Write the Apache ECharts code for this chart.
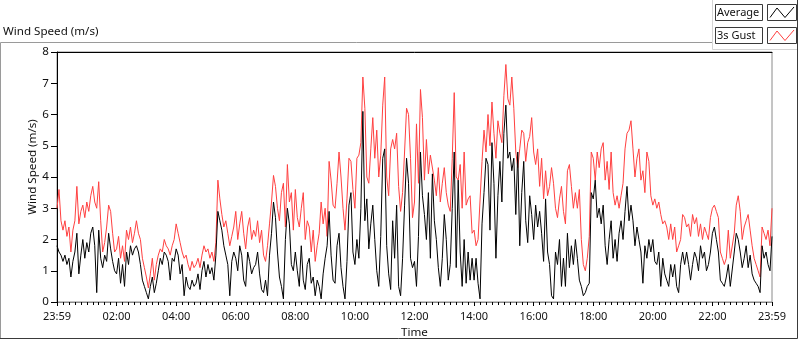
<!DOCTYPE html>
<html>
<head>
<meta charset="utf-8">
<script src="https://cdn.jsdelivr.net/npm/echarts@6/dist/echarts.min.js"></script>
<style>
html,body{margin:0;padding:0;background:#fff;}
#chart{width:800px;height:342px;}
</style>
</head>
<body>
<div id="chart"></div>
<script>
// ---- data (one sample every 4 minutes, from 23:59 to 23:59) ----
const stepMinutes = 4;
const tickLabels = ['23:59','02:00','04:00','06:00','08:00','10:00','12:00','14:00','16:00','18:00','20:00','22:00','23:59'];
const seriesNames = ['Average', '3s Gust'];

const gust = [
3.0,3.6,2.6,2.3,2.6,2.1,2.4,1.6,2.3,2.6,
3.7,2.5,2.9,3.1,2.7,3.2,2.9,3.4,3.7,3.2,
3.0,3.85,2.6,1.6,1.9,2.4,3.1,2.9,2.2,1.6,
1.7,2.1,1.4,1.8,1.3,2.3,2.0,2.4,1.9,2.2,
2.6,2.2,2.0,1.4,1.1,0.8,0.45,0.9,1.4,0.7,
1.2,1.5,1.7,1.6,2.0,1.8,1.7,1.5,1.8,2.0,
2.5,2.2,1.9,1.6,1.4,1.5,1.2,1.0,1.3,1.1,
1.2,1.4,1.1,1.5,1.8,1.6,1.7,1.4,1.6,1.3,
1.9,3.9,3.3,2.8,2.4,2.6,2.2,1.8,2.1,2.4,
2.9,2.0,2.5,2.9,2.2,1.7,2.4,2.7,2.0,2.3,
2.1,2.6,1.9,2.3,1.5,1.3,1.8,2.5,3.2,4.05,
3.7,3.0,2.6,3.5,3.8,2.4,4.4,3.2,3.5,2.3,
3.6,2.7,2.4,3.0,3.5,2.0,2.6,2.4,1.6,2.3,
1.3,1.8,2.2,3.2,2.5,3.0,2.1,4.5,3.9,3.1,
3.0,3.8,4.8,4.0,3.0,2.3,3.3,4.6,4.5,3.6,
3.0,4.6,4.7,5.1,7.2,6.2,4.0,3.8,4.9,5.9,
4.6,5.5,4.0,4.7,6.3,7.2,4.0,3.4,4.9,5.2,
4.9,5.4,3.7,2.9,3.5,4.8,6.2,6.0,4.6,2.7,
3.2,5.7,3.8,6.8,5.9,3.9,5.2,4.1,4.7,4.7,
3.9,3.4,4.3,3.2,3.8,4.3,3.5,3.1,2.9,4.6,
6.7,4.0,3.9,4.4,3.0,4.8,3.1,3.3,3.4,2.2,
2.3,1.8,2.0,2.0,4.5,5.5,4.8,6.0,5.0,6.4,
5.4,4.6,5.8,5.4,5.1,6.6,7.6,6.5,6.3,7.2,
6.2,4.8,4.3,4.9,5.5,5.4,4.5,5.1,5.3,5.9,
4.8,4.4,4.9,3.7,4.6,3.3,4.2,3.4,3.7,4.3,
3.8,3.0,2.7,3.3,3.7,2.9,2.5,4.2,4.4,3.7,
3.0,3.5,3.0,3.6,2.0,1.2,1.0,1.4,2.1,4.8,
4.6,3.9,4.8,4.3,4.9,5.1,3.9,4.5,3.6,4.8,
3.5,3.1,3.4,3.0,3.4,3.8,4.9,5.4,5.5,5.8,
4.9,4.0,4.6,4.9,3.9,4.2,3.5,4.8,4.5,3.4,
3.1,3.3,3.0,3.2,2.8,2.5,2.6,2.4,2.0,2.5,
2.0,2.4,1.6,1.8,2.0,2.8,2.7,2.4,2.5,2.1,
2.8,2.5,2.7,2.1,2.5,2.0,2.4,2.2,2.0,2.7,
3.0,3.1,2.9,2.7,1.6,1.4,1.2,1.4,2.3,1.4,
1.4,2.2,3.1,3.4,2.9,2.0,2.4,2.6,2.8,2.3,
1.8,1.4,1.2,1.0,0.8,2.4,2.2,2.0,2.3,1.8,3.0
];

const average = [
1.8,1.6,1.5,1.3,1.5,1.2,1.4,0.8,1.3,1.6,
2.2,0.9,1.5,2.0,1.4,1.9,1.6,2.2,2.4,1.8,
0.3,2.3,1.4,1.1,1.5,1.3,2.2,1.7,1.3,1.0,
0.9,1.4,0.6,1.2,0.5,1.6,1.2,1.8,1.5,1.7,
1.8,1.6,1.2,0.7,0.5,0.3,0.1,0.5,0.8,0.3,
0.6,1.0,1.4,1.2,1.6,1.5,1.3,0.7,1.4,1.3,
1.7,1.5,0.9,1.2,0.2,0.8,0.5,0.4,0.7,0.5,
0.6,0.9,0.4,1.0,1.3,0.8,1.2,0.9,1.1,0.7,
1.5,2.9,2.6,2.3,1.8,1.5,1.2,0.2,1.3,1.6,
1.4,1.0,1.8,1.5,0.7,0.5,1.6,1.3,0.9,1.1,
1.2,1.6,0.9,0.4,0.3,0.7,0.2,1.5,2.2,3.2,
2.7,1.6,0.8,0.5,0.1,2.0,3.0,2.5,1.2,1.0,
1.6,1.0,0.5,1.8,0.7,0.4,1.2,1.4,0.6,0.8,
0.2,0.7,0.5,0.1,0.9,1.4,1.8,2.9,1.5,0.7,
0.6,1.8,2.2,1.1,0.5,0.1,1.3,3.1,3.5,1.6,
1.2,2.0,1.4,3.0,6.1,2.6,3.3,1.7,2.5,3.1,
2.0,1.0,0.5,2.1,4.6,4.9,1.8,0.9,0.4,2.6,
1.4,3.1,0.5,0.2,1.4,3.1,4.6,3.8,1.4,1.1,
1.3,0.5,2.1,4.8,3.4,2.8,2.0,3.5,1.4,4.1,
2.6,2.0,1.1,0.5,1.4,2.8,2.0,0.7,1.2,3.0,
4.8,1.1,3.9,1.6,0.5,2.0,0.6,1.6,0.7,1.4,
0.7,1.4,0.6,0.1,2.5,3.5,4.6,4.4,2.3,5.1,
3.8,1.4,3.4,4.5,3.2,5.4,6.3,4.6,4.8,4.2,
4.6,2.8,4.8,1.8,3.5,4.5,2.6,1.9,3.4,2.8,
2.0,3.1,2.4,2.9,2.2,1.3,3.3,1.6,1.2,0.2,
0.1,1.6,1.2,2.0,0.5,1.4,0.5,2.2,1.1,1.8,
1.2,2.0,1.4,0.7,0.5,0.2,0.3,0.5,0.6,3.5,
3.3,3.9,2.7,3.0,2.5,3.1,1.8,1.2,2.0,2.6,
1.4,2.0,1.3,2.2,2.6,2.0,2.9,3.7,2.6,3.1,
2.6,1.8,2.4,2.0,1.6,0.6,1.8,1.4,2.0,1.6,
2.0,1.3,1.2,1.6,0.5,1.4,0.9,0.7,0.5,1.2,
0.8,1.2,0.5,0.3,1.2,1.6,1.2,1.6,1.2,0.7,
1.2,1.6,1.4,1.0,1.8,1.4,1.6,1.0,1.2,1.6,
2.2,2.4,2.0,1.6,0.7,0.6,0.5,0.8,1.2,0.5,
0.5,1.6,2.2,2.0,1.6,1.1,1.4,1.8,1.1,1.5,
0.9,0.7,0.6,0.5,0.3,1.8,1.4,1.6,1.2,1.0,2.1
];

// ---- build ----
const toPairs = arr => arr.map((v, i) => [i * stepMinutes, v]);
const FONT = '"Noto Sans", "Open Sans", sans-serif';
const TXT = '#111';

const chart = echarts.init(document.getElementById('chart'), null, {renderer: 'canvas'});

function legendItem(y, label, color) {
  return [
    {type: 'rect', shape: {x: 715.5, y: y + 0.5, width: 47, height: 16},
     style: {fill: '#fff', stroke: '#3a3a3a', lineWidth: 1}},
    {type: 'text', x: 717, y: y + 9,
     style: {text: label, fill: TXT, font: '11px ' + FONT, textVerticalAlign: 'middle'}},
    {type: 'rect', shape: {x: 767.5, y: y + 0.5, width: 29, height: 16},
     style: {fill: '#fff', stroke: '#3a3a3a', lineWidth: 1}},
    {type: 'polyline', shape: {points: [[770, y + 13.5], [777, y + 4], [785, y + 13.5], [794, y + 3]]},
     style: {stroke: color, lineWidth: 1, fill: null}}
  ];
}

const option = {
  animation: false,
  backgroundColor: '#fff',
  title: {
    text: 'Wind Speed (m/s)', left: 3, top: 26, padding: 0,
    textStyle: {fontFamily: FONT, fontSize: 11.6, fontWeight: 'normal', color: TXT}
  },
  grid: {left: 57, right: 28, top: 52, bottom: 40, show: true, borderColor: '#8a8a8a', borderWidth: 1,
         backgroundColor: '#fff', containLabel: false, outerBoundsMode: 'none'},
  xAxis: [{
    type: 'value', min: 0, max: 1440, interval: 120,
    name: 'Time', nameLocation: 'middle', nameGap: 25, nameMoveOverlap: false,
    nameTextStyle: {fontFamily: FONT, fontSize: 11.6, color: TXT},
    axisLine: {show: true, lineStyle: {color: '#8a8a8a', width: 1}},
    axisTick: {show: true, length: 4, lineStyle: {color: '#000'}},
    minorTick: {show: true, splitNumber: 10, length: 3, lineStyle: {color: '#000'}},
    splitLine: {show: false},
    axisLabel: {
      fontFamily: FONT, fontSize: 11, color: TXT, margin: 9,
      showMinLabel: true, showMaxLabel: true,
      formatter: v => tickLabels[Math.round(v / 120)]
    }
  }, {
    type: 'value', min: 0, max: 1440, position: 'top',
    axisLine: {show: true, lineStyle: {color: '#000', width: 1}},
    axisTick: {show: false}, axisLabel: {show: false}, splitLine: {show: false}
  }],
  yAxis: {
    type: 'value', min: 0, max: 8, interval: 1,
    name: 'Wind Speed (m/s)', nameLocation: 'middle', nameGap: 18, nameMoveOverlap: false,
    nameTextStyle: {fontFamily: FONT, fontSize: 11.6, color: TXT, padding: [0, 0, 0, 20]},
    axisLine: {show: true, lineStyle: {color: '#000', width: 1}},
    axisTick: {show: true, length: 6, lineStyle: {color: '#000'}},
    splitLine: {show: false},
    axisLabel: {fontFamily: FONT, fontSize: 11.6, color: TXT, margin: 8}
  },
  series: [
    {name: seriesNames[1], type: 'line', data: toPairs(gust), showSymbol: false, symbol: 'none',
     lineStyle: {color: '#ff4040', width: 1}, itemStyle: {color: '#ff4040'}, sampling: null, z: 2},
    {name: seriesNames[0], type: 'line', data: toPairs(average), showSymbol: false, symbol: 'none',
     lineStyle: {color: '#000', width: 1}, itemStyle: {color: '#000'}, sampling: null, z: 3}
  ],
  graphic: [
    {type: 'polyline', shape: {points: [[0.5, 339], [0.5, 42.5], [712, 42.5]]},
     style: {stroke: '#9a9a9a', lineWidth: 1, fill: null}, silent: true},
    {type: 'polyline', shape: {points: [[712.5, 0], [712.5, 49.5], [797.5, 49.5]]},
     style: {stroke: '#d4d4d4', lineWidth: 1, fill: null}, silent: true},
    {type: 'polyline', shape: {points: [[797.5, 0], [797.5, 338.5], [0, 338.5]]},
     style: {stroke: '#3a3a3a', lineWidth: 1, fill: null}, silent: true},
    ...legendItem(4, seriesNames[0], '#000'),
    ...legendItem(27, seriesNames[1], '#ff4040')
  ]
};
chart.setOption(option);
</script>
</body>
</html>
